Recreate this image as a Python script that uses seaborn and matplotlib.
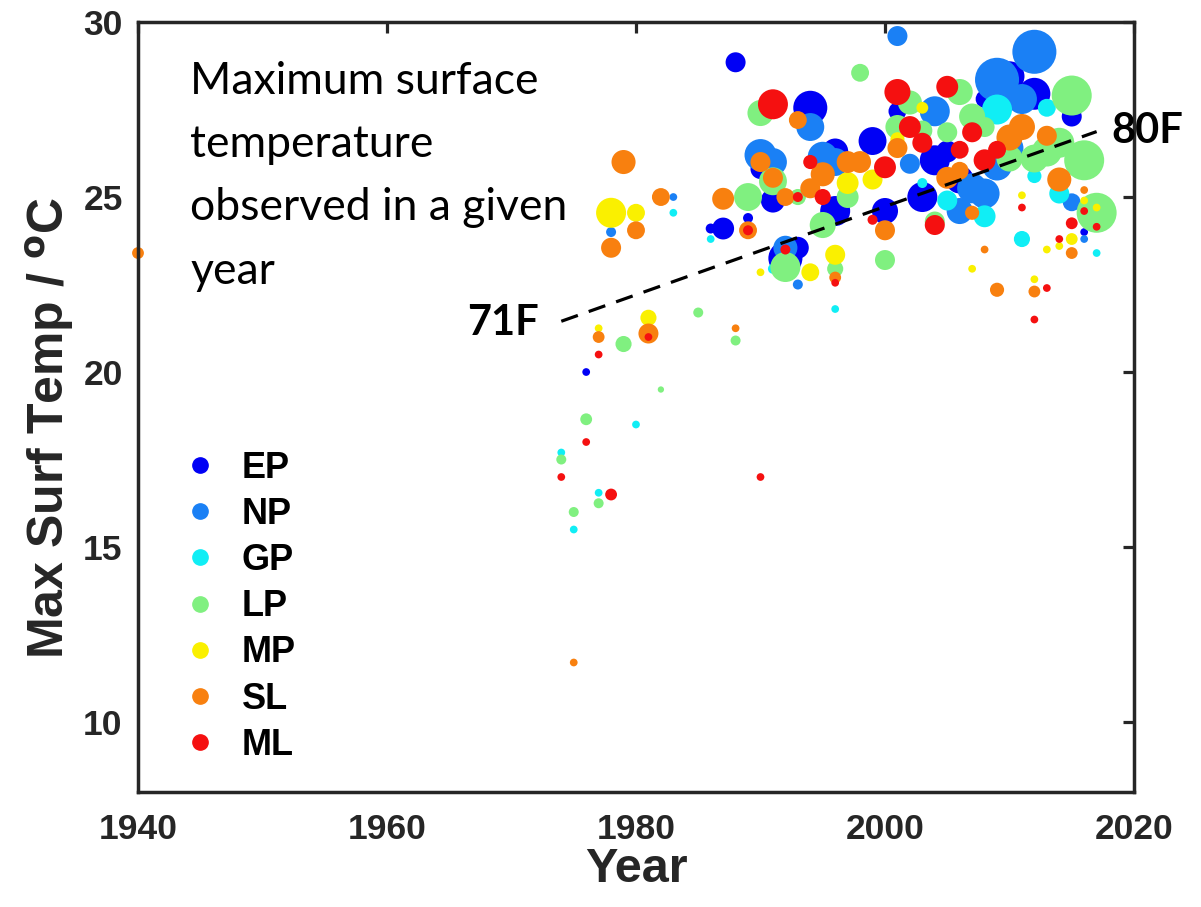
import numpy as np
import pandas as pd
import matplotlib
matplotlib.use("Agg")
import matplotlib.pyplot as plt
from matplotlib.lines import Line2D
import seaborn as sns

# ---------------- data ----------------
categories = ["EP", "NP", "GP", "LP", "MP", "SL", "ML"]
colors = ["#0000F5", "#1A80F5", "#10EEF5", "#80F080", "#FAF000", "#F8800F", "#F51010"]

ep_year = [1976, 1986, 1987, 1988, 1989, 1990, 1991, 1992, 1993, 1994, 1996, 1996, 1999, 2000,
           2001, 2003, 2004, 2005, 2006, 2008, 2010, 2012, 2015, 2016]
ep_temp = [20.0, 24.1, 24.1, 28.85, 24.4, 25.8, 24.9, 23.25, 23.55, 27.55, 24.6, 26.3, 26.6, 24.6,
           27.45, 25.0, 26.05, 26.3, 25.5, 27.8, 28.45, 27.95, 27.3, 24.0]
ep_area = [0.6, 1.0, 4.8, 4.0, 1.0, 4.0, 5.8, 11.6, 4.8, 11.6, 9.0, 6.8, 7.8, 6.8,
           3.2, 9.0, 9.0, 4.8, 7.8, 3.2, 9.0, 10.2, 4.0, 0.6]

np_year = [1978, 1983, 1990, 1991, 1992, 1993, 1994, 1995, 1996, 2001, 2002, 2004, 2006, 2007,
           2008, 2009, 2009, 2010, 2011, 2012, 2015, 2016]
np_temp = [24.0, 25.0, 26.2, 26.0, 23.55, 22.5, 27.0, 26.15, 26.0, 29.6, 25.95, 27.45, 24.6, 25.25,
           25.1, 28.35, 25.9, 26.4, 27.8, 29.15, 24.85, 23.8]
np_area = [1.0, 0.6, 10.2, 7.8, 5.8, 1.0, 7.8, 9.0, 7.8, 4.0, 4.0, 9.0, 6.8, 9.0,
           9.0, 19.4, 9.0, 7.8, 9.0, 19.4, 3.2, 0.6]

gp_year = [1974, 1975, 1977, 1980, 1983, 1986, 1991, 1996, 2003, 2005, 2008, 2009, 2011, 2012,
           2013, 2014, 2017]
gp_temp = [17.7, 15.5, 16.55, 18.5, 24.55, 23.8, 22.95, 21.8, 25.4, 24.9, 24.45, 27.5, 23.8, 25.6,
           27.55, 25.1, 23.4]
gp_area = [0.6, 0.6, 0.6, 0.6, 0.6, 0.6, 1.0, 0.6, 1.0, 4.0, 4.8, 9.0, 2.6, 2.0,
           3.2, 4.0, 0.6]

lp_year = [1974, 1975, 1976, 1977, 1979, 1982, 1985, 1988, 1989, 1990, 1991, 1992, 1993, 1995,
           1996, 1997, 1998, 2000, 2001, 2002, 2003, 2004, 2005, 2006, 2007, 2008, 2010, 2012,
           2013, 2014, 2015, 2016, 2017]
lp_temp = [17.5, 16.0, 18.65, 16.25, 20.8, 19.5, 21.7, 20.9, 25.0, 27.4, 25.45, 23.0, 25.0, 24.2,
           22.95, 25.0, 28.55, 23.2, 27.0, 27.7, 26.9, 24.3, 26.85, 28.0, 27.3, 27.0, 26.1, 26.1,
           26.3, 26.55, 27.9, 26.05, 24.55]
lp_area = [1.0, 1.0, 1.4, 1.0, 2.6, 0.4, 1.0, 1.0, 7.8, 6.8, 7.8, 9.0, 2.6, 6.8,
           2.6, 4.8, 3.2, 4.0, 5.8, 5.8, 4.0, 4.0, 4.0, 6.8, 6.8, 4.0, 6.8, 7.8,
           9.0, 9.0, 16.0, 16.0, 16.0]

mp_year = [1977, 1978, 1980, 1981, 1990, 1994, 1996, 1997, 1999, 2001, 2003, 2007, 2011, 2012,
           2013, 2014, 2015, 2016, 2017]
mp_temp = [21.25, 24.55, 24.55, 21.55, 22.85, 22.85, 23.35, 25.4, 25.5, 26.65, 27.55, 22.95, 25.05,
           22.65, 23.5, 23.6, 23.8, 24.9, 24.7]
mp_area = [0.6, 9.0, 3.2, 2.6, 0.6, 3.2, 4.0, 4.8, 4.0, 2.0, 1.4, 0.6, 0.6,
           0.6, 0.6, 0.6, 1.4, 0.6, 0.6]

sl_year = [1940, 1975, 1977, 1978, 1979, 1980, 1981, 1982, 1987, 1988, 1989, 1990, 1991, 1992,
           1993, 1994, 1995, 1996, 1997, 1998, 2000, 2001, 2005, 2006, 2007, 2008, 2009, 2010,
           2011, 2012, 2013, 2014, 2015, 2016]
sl_temp = [23.4, 11.7, 21.0, 23.55, 26.0, 24.05, 21.1, 25.0, 24.95, 21.25, 24.05, 26.0, 25.55, 25.0,
           27.2, 25.25, 25.65, 22.7, 26.0, 26.0, 24.05, 26.4, 25.55, 25.75, 24.55, 23.5, 22.35, 26.7,
           27.0, 22.3, 26.75, 25.5, 23.4, 25.2]
sl_area = [1.4, 0.6, 1.4, 4.0, 5.8, 3.2, 4.0, 3.2, 4.8, 0.6, 3.2, 4.0, 4.0, 3.2,
           3.2, 4.0, 5.8, 1.4, 4.8, 4.8, 4.0, 4.0, 4.8, 3.2, 2.0, 0.6, 2.0, 6.8,
           6.8, 1.4, 4.0, 5.8, 1.4, 0.6]

ml_year = [1974, 1976, 1977, 1978, 1981, 1989, 1990, 1991, 1992, 1993, 1994, 1995, 1996, 1999,
           2000, 2001, 2002, 2003, 2004, 2005, 2006, 2007, 2008, 2009, 2011, 2012, 2013, 2014,
           2015, 2016, 2017]
ml_temp = [17.0, 18.0, 20.5, 16.5, 21.0, 24.05, 17.0, 27.65, 23.5, 25.0, 26.0, 25.0, 22.55, 24.35,
           25.85, 28.0, 27.0, 26.55, 24.2, 28.15, 26.35, 26.85, 26.05, 26.35, 24.7, 21.5, 22.4, 23.8,
           24.25, 24.6, 24.15]
ml_area = [0.6, 0.6, 0.6, 1.4, 0.6, 1.0, 0.6, 9.0, 1.0, 1.0, 2.0, 2.6, 0.6, 1.0,
           4.8, 6.8, 4.8, 4.0, 4.0, 4.8, 3.2, 4.0, 4.8, 3.2, 0.6, 0.6, 0.6, 0.6,
           1.4, 0.6, 0.6]

trend_year = [1974, 2017]
trend_temp = [21.45, 26.87]

x_ticks = [1940, 1960, 1980, 2000, 2020]
y_ticks = [10, 15, 20, 25, 30]

# ---------------- build table ----------------
series = [(ep_year, ep_temp, ep_area), (np_year, np_temp, np_area), (gp_year, gp_temp, gp_area),
          (lp_year, lp_temp, lp_area), (mp_year, mp_temp, mp_area), (sl_year, sl_temp, sl_area),
          (ml_year, ml_temp, ml_area)]
frames = []
for cat, (yr, tp, ar) in zip(categories, series):
    f = pd.DataFrame({"year": yr, "temp": tp, "area": ar, "cat": cat})
    frames.append(f.sort_values("area", ascending=False, kind="stable"))
df = pd.concat(frames, ignore_index=True)

# ---------------- plot ----------------
sns.set_style("white")
plt.rcParams["font.family"] = ["Liberation Sans", "DejaVu Sans"]

fig = plt.figure(figsize=(12.01, 9.07), dpi=100)
ax = fig.add_axes([0.1149, 0.1268, 0.8293, 0.8489])

palette = dict(zip(categories, colors))
sns.scatterplot(data=df, x="year", y="temp", hue="cat", hue_order=categories, palette=palette,
                size="area", sizes=(0, 1036), size_norm=(0, 20), linewidth=0, edgecolor="none",
                legend=False, ax=ax, clip_on=False)

ax.plot(trend_year, trend_temp, color="black", lw=2.3, ls=(0, (5.5, 3.6)))

ax.set_xlim(1940, 2020)
ax.set_ylim(8, 30)
ax.set_xticks(x_ticks)
ax.set_yticks(y_ticks)
ax.tick_params(direction="in", length=8, width=2.3, top=True, right=True,
               labelsize=25.5, colors="#262626")
ax.tick_params(axis="x", pad=15)
ax.tick_params(axis="y", pad=11)
for lab in ax.get_xticklabels() + ax.get_yticklabels():
    lab.set_fontweight("bold")
for sp in ax.spines.values():
    sp.set_linewidth(2.5)
    sp.set_color("#262626")
    sp.set_visible(True)

ax.set_xlabel("Year", fontsize=35, fontweight="bold", color="#262626", labelpad=1)
ax.set_ylabel("Max Surf Temp / $^{\\mathbf{o}}$C", fontsize=36, fontweight="bold",
              color="#262626")
ax.yaxis.set_label_coords(-0.061, 0.473)

ax.text(1944.2, 28.9, "Maximum surface\ntemperature\nobserved in a given\nyear",
        fontsize=32, family=["Lato", "DejaVu Sans"], va="top", ha="left", linespacing=1.68,
        color="black")
ax.text(1972.2, 21.4, "71F", fontsize=30, fontweight="bold", family=["Lato", "DejaVu Sans"],
        ha="right", va="center", color="black")
ax.text(2018.2, 26.9, "80F", fontsize=30, fontweight="bold", family=["Lato", "DejaVu Sans"],
        ha="left", va="center", color="black", clip_on=False)

handles = [Line2D([], [], marker="o", ls="", color=c, markersize=11) for c in colors]
leg = ax.legend(handles, categories, loc="upper left", bbox_to_anchor=(0.03, 0.462),
                frameon=False, prop={"size": 26, "weight": "bold"}, handletextpad=0.65,
                labelspacing=0.31, handlelength=1.0, borderaxespad=0)
for t in leg.get_texts():
    t.set_color("black")

fig.savefig("out.png", dpi=100)
